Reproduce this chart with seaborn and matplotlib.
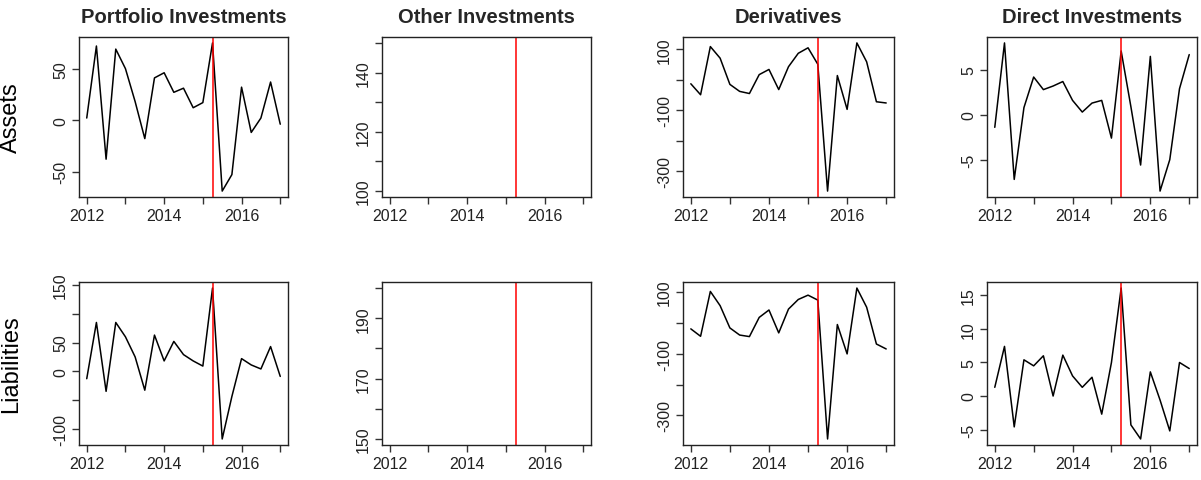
"""Quarterly flows (assets / liabilities) by investment type, 2012-2017, with a break marker."""

import matplotlib.pyplot as plt
import numpy as np
import pandas as pd
import seaborn as sns

QUARTERS = [2012 + 0.25 * i for i in range(21)]
BREAK_DATE = 2015.25

PORTFOLIO_ASSETS = [2, 72, -38, 69, 50, 18, -18, 41, 46, 27, 31, 12, 17, 75,
                    -69, -53, 32, -12, 2, 37, -4]
PORTFOLIO_LIAB = [-13, 85, -35, 85, 60, 25, -33, 63, 18, 52, 29, 18, 9, 145,
                  -118, -44, 22, 11, 4, 43, -9]
DERIV_ASSETS = [-13, -49, 109, 71, -15, -38, -45, 17, 34, -32, 43, 87, 105, 51,
                -365, 14, -97, 121, 59, -72, -76]
DERIV_LIAB = [-20, -44, 101, 55, -17, -40, -45, 17, 41, -33, 44, 75, 89, 73,
              -376, -6, -101, 112, 50, -69, -85]
DIRECT_ASSETS = [-1.4, 8.0, -7.2, 0.8, 4.2, 2.8, 3.2, 3.7, 1.6, 0.3, 1.3, 1.6,
                 -2.6, 7.1, 0.9, -5.6, 6.5, -8.5, -5.0, 2.9, 6.7]
DIRECT_LIAB = [1.3, 7.4, -4.6, 5.4, 4.5, 6.0, 0.0, 6.1, 3.0, 1.3, 2.8, -2.7,
               5.0, 16.1, -4.3, -6.4, 3.6, -0.6, -5.2, 5.0, 4.1]

COLUMNS = ["Portfolio Investments", "Other Investments", "Derivatives", "Direct Investments"]
ROWS = ["Assets", "Liabilities"]

# Other Investments has no observations: only the empty frame is drawn.
SERIES = {
    ("Assets", "Portfolio Investments"): PORTFOLIO_ASSETS,
    ("Liabilities", "Portfolio Investments"): PORTFOLIO_LIAB,
    ("Assets", "Derivatives"): DERIV_ASSETS,
    ("Liabilities", "Derivatives"): DERIV_LIAB,
    ("Assets", "Direct Investments"): DIRECT_ASSETS,
    ("Liabilities", "Direct Investments"): DIRECT_LIAB,
}
EMPTY_YLIM = {"Assets": (98, 152), "Liabilities": (148, 202)}

# y ticks and which of them carry a label (R drops overlapping labels)
Y_TICKS = {
    ("Assets", "Portfolio Investments"): ([-50, 0, 50], [-50, 0, 50]),
    ("Liabilities", "Portfolio Investments"): ([-100, -50, 0, 50, 100, 150], [-100, 0, 50, 150]),
    ("Assets", "Other Investments"): (list(range(100, 151, 10)), [100, 120, 140]),
    ("Liabilities", "Other Investments"): (list(range(150, 201, 10)), [150, 170, 190]),
    ("Assets", "Derivatives"): ([-300, -200, -100, 0, 100], [-300, -100, 100]),
    ("Liabilities", "Derivatives"): ([-300, -200, -100, 0, 100], [-300, -100, 100]),
    ("Assets", "Direct Investments"): ([-5, 0, 5], [-5, 0, 5]),
    ("Liabilities", "Direct Investments"): ([-5, 0, 5, 10, 15], [-5, 0, 5, 10, 15]),
}
X_TICKS = list(range(2012, 2018))
X_LABELED = [2012, 2014, 2016]

sns.set_theme(style="ticks")
plt.rcParams["font.family"] = ["Liberation Sans", "DejaVu Sans"]
plt.rcParams["axes.unicode_minus"] = False

W, H = 1201, 481
fig = plt.figure(figsize=(W / 100, H / 100), dpi=100)

col_px = [(79, 288), (382, 591), (683, 894), (987, 1197)]
row_px = [(38, 198), (283, 446)]

records = []
for (row, col), vals in SERIES.items():
    for q, v in zip(QUARTERS, vals):
        records.append({"row": row, "col": col, "date": q, "value": v})
df = pd.DataFrame(records)

for r, row in enumerate(ROWS):
    for c, col in enumerate(COLUMNS):
        x0, x1 = col_px[c]
        top, bot = row_px[r]
        ax = fig.add_axes([x0 / W, 1 - bot / H, (x1 - x0) / W, (bot - top) / H])
        sub = df[(df["row"] == row) & (df["col"] == col)]
        if len(sub):
            sns.lineplot(data=sub, x="date", y="value", color="black", lw=1.1, ax=ax)
            ax.margins(x=0.04, y=0.04)
        else:
            ax.set_ylim(*EMPTY_YLIM[row])
        ax.set_xlim(2011.8, 2017.2)
        ax.axvline(BREAK_DATE, color="red", lw=1.1)

        ax.set_xticks(X_TICKS)
        ax.set_xticklabels([str(t) if t in X_LABELED else "" for t in X_TICKS])
        yt, ylab = Y_TICKS[(row, col)]
        ax.set_yticks(yt)
        ax.set_yticklabels([str(t) if t in ylab else "" for t in yt],
                           rotation=90, va="center")
        ax.tick_params(axis="both", direction="out", length=5, width=1,
                       color="#333333", labelsize=11.5, labelcolor="#222222")
        ax.tick_params(axis="x", pad=3)
        ax.tick_params(axis="y", pad=3)
        for sp in ax.spines.values():
            sp.set_visible(True)
            sp.set_color("#222222")
            sp.set_linewidth(1.0)
        ax.set_xlabel("")
        ax.set_ylabel("")
        if r == 0:
            ax.set_title(col, fontsize=14.5, fontweight="bold", pad=11)
        if c == 0:
            ax.set_ylabel(row, fontsize=17, color="black")
            ax.yaxis.set_label_coords(-(x0 - 22) / (x1 - x0), 0.5)

fig.savefig("out.png", dpi=100)
